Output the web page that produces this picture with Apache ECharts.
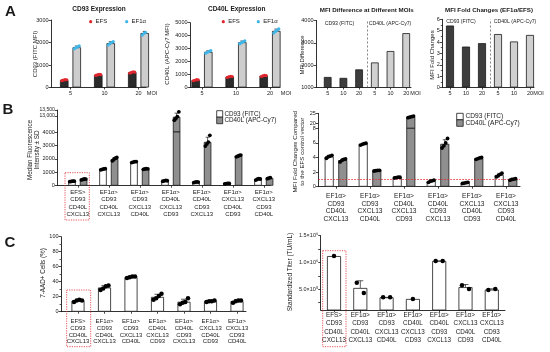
<!DOCTYPE html>
<html>
<head>
<meta charset="utf-8">
<script src="https://cdn.jsdelivr.net/npm/echarts@6.0.0/dist/echarts.min.js"></script>
<style>
html,body{margin:0;padding:0;background:#fff;}
#chart{width:550px;height:352px;}
</style>
</head>
<body>
<div id="chart"></div>
<script>
// ================= DATA =================
const moiLabels = ['5', '10', '20'];
const moiLabels6 = ['5', '10', '20', '5', '10', '20'];
// Panel A – CD93 expression (FITC MFI), replicates per MOI
const cd93EFS  = [[305, 330, 350, 345], [535, 560, 585, 570], [640, 665, 700, 680]];
const cd93EF1a = [[1720, 1770, 1810, 1850], [1890, 1950, 2000, 2040], [2330, 2400, 2450, 2500]];
// Panel A – CD40L expression (APC-Cy7 MFI)
const cd40lEFS  = [[520, 560, 600, 590], [780, 820, 860, 850], [850, 890, 930, 920]];
const cd40lEF1a = [[2650, 2720, 2780, 2850], [3380, 3460, 3530, 3600], [4200, 4330, 4430, 4520]];
// Panel A – MFI difference
const diffCD93  = [1470, 1430, 1810];
const diffCD40L = [2120, 2630, 3430];
// Panel A – fold change EF1α/EFS
const foldCD93  = [5.45, 3.6, 3.9];
const foldCD40L = [4.7, 4.05, 4.62];

// Panels B/C – constructs (label lines)
const constructs = [
  ['EFS>', 'CD93', 'CD40L', 'CXCL13'],
  ['EF1α>', 'CD93', 'CD40L', 'CXCL13'],
  ['EF1α>', 'CD93', 'CXCL13', 'CD40L'],
  ['EF1α>', 'CD40L', 'CXCL13', 'CD93'],
  ['EF1α>', 'CD40L', 'CD93', 'CXCL13'],
  ['EF1α>', 'CXCL13', 'CD40L', 'CD93'],
  ['EF1α>', 'CXCL13', 'CD93', 'CD40L']
];
// Panel B left – median fluorescence intensity replicates
const mfiCD93 = [[300, 320, 345, 335], [1180, 1220, 1250, 1265], [1720, 1760, 1790, 1800],
                 [330, 360, 390, 370], [230, 260, 290, 270], [140, 160, 180, 170], [420, 480, 520, 500]];
const mfiCD40L = [[430, 470, 500, 490], [1850, 1950, 2050, 2100], [1220, 1250, 1270, 1260],
                  [12650, 12800, 12950, 13350], [2950, 3100, 3250, 3750], [2150, 2200, 2250, 2280], [520, 570, 600, 620]];
// Panel B right – fold change vs EFS control (constructs 2..7)
const fcCD93  = [[3.9, 4.1, 4.2, 4.3], [5.7, 5.8, 5.9, 5.95], [1.2, 1.25, 1.3, 1.3],
                 [0.6, 0.75, 0.8, 0.9], [0.45, 0.5, 0.55, 0.6], [1.35, 1.5, 1.7, 1.85]];
const fcCD40L = [[3.4, 3.6, 3.75, 3.8], [2.15, 2.2, 2.25, 2.25], [22.8, 23.1, 23.3, 23.6],
                 [5.3, 5.6, 6.0, 6.6], [3.75, 3.85, 3.95, 4.0], [0.9, 1.0, 1.05, 1.1]];
// Panel C left – 7-AAD+ cells (%)
const aadCells = [[13, 15, 16, 15], [29, 31, 34, 35], [45, 46, 47, 47], [16, 18, 21, 24],
                  [10, 12, 13, 18], [13, 14, 14, 15], [12, 14, 15, 15]];
// Panel C right – standardized titer (TU/mL)
const titer = [[1120000], [620000, 430000], [350000, 350000], [320000],
               [1030000, 1030000], [575000, 505000], [485000, 505000]];
const titerTicks = [500000, 1000000, 1500000];
const titerTickLabels = ['5.0×10⁵', '1.0×10⁶', '1.5×10⁶'];
const titerTickMarks = [250000, 500000, 750000, 1000000, 1250000, 1500000];
const brokeTicksLeft = [13000, 13500];
const brokeTicksRight = [20, 25];

// ================= LAYOUT / STYLE =================
const FONT = '"Liberation Sans", Arial, Helvetica, sans-serif';
const INK = '#1a1a1a';
const RED = '#e0262d', BLUE = '#3fb6e8';
const num = v => String(v);
const titerFmt = v => {
  const k = titerTicks.findIndex(t => Math.abs(t - v) < 1);
  return k >= 0 ? titerTickLabels[k] : '';
};
const P = {
  a1:  {x0: 51, x1: 146, c0: 70.5, sp: 34, top: 20, bottom: 87.5, ymin: 0, ymax: 3000, step: 1000, yfmt: num, xm: 3},
  a2:  {x0: 190, x1: 280, c0: 202, sp: 34, top: 22.7, bottom: 87.5, ymin: 0, ymax: 5000, step: 1000, yfmt: num, xm: 3},
  a3:  {x0: 316, x1: 411, c0: 327.7, sp: 15.7, top: 20.4, bottom: 87.5, ymin: 1000, ymax: 4000, step: 1000, yfmt: num, xm: 3},
  a4:  {x0: 442.3, x1: 534, c0: 450, sp: 16, top: 19.3, bottom: 87.5, ymin: 0, ymax: 6, step: 1, minor: 2, xm: 3},
  blU: {x0: 57.3, x1: 270.3, c0: 77.8, sp: 31, top: 110, bottom: 132, ymin: 11667, ymax: 13500,
        yticks: brokeTicksLeft, yfmt: v => v.toLocaleString('en-US'), yfs: 5},
  bl:  {x0: 57.3, x1: 270.3, c0: 77.8, sp: 31, top: 132, bottom: 185.7, ymin: 0, ymax: 4000, step: 1000, yfmt: num,
        xfs: 6, xlh: 7.2, xm: 3.2},
  brU: {x0: 318.3, x1: 520, c0: 336, sp: 34, top: 113.3, bottom: 128.3, ymin: 17.5, ymax: 25, yticks: brokeTicksRight},
  br:  {x0: 318.3, x1: 520, c0: 336, sp: 34, top: 128.3, bottom: 186.7, ymin: 0, ymax: 8, step: 2,
        xfs: 6.6, xlh: 7.5, xm: 6},
  cl:  {x0: 61, x1: 246, c0: 78, sp: 26.5, top: 236.7, bottom: 311.7, ymin: 0, ymax: 100, step: 20, minor: 2,
        xfs: 6, xlh: 6.7, xm: 6.5},
  cr:  {x0: 320.7, x1: 505, c0: 334, sp: 26.3, top: 235.7, bottom: 310, ymin: 114000, ymax: 1500000,
        yticks: titerTicks, ytickMarks: titerTickMarks, yfmt: titerFmt, xfs: 6.3, xlh: 8.4, xm: 1}
};

const grid = [], xAxis = [], yAxis = [], series = [];
const mean = a => a.reduce((s, v) => s + v, 0) / a.length;
const sd = a => { if (a.length < 2) return 0; const m = mean(a); return Math.sqrt(a.reduce((s, v) => s + (v - m) * (v - m), 0) / (a.length - 1)); };

function addGrid(p, xl) {
  const gi = grid.length;
  grid.push({left: p.x0, top: p.top, width: p.x1 - p.x0, height: p.bottom - p.top, containLabel: false, outerBoundsMode: 'none'});
  const idx = xl ? xl.map((_, i) => i) : [0];
  xAxis.push({
    type: 'value', gridIndex: gi, min: (p.x0 - p.c0) / p.sp, max: (p.x1 - p.c0) / p.sp, show: !!xl,
    splitLine: {show: false},
    axisLine: {show: true, onZero: false, lineStyle: {color: INK, width: 0.9}},
    axisTick: {show: true, customValues: idx, length: 2, lineStyle: {color: INK, width: 0.8}},
    axisLabel: {show: true, customValues: idx, formatter: v => xl ? (xl[Math.round(v)] || '') : '', hideOverlap: false,
      fontFamily: FONT, fontSize: p.xfs || 5.5, lineHeight: p.xlh || 6.5, margin: p.xm || 3, color: INK}
  });
  const ya = {
    type: 'value', gridIndex: gi, min: p.ymin, max: p.ymax, position: 'left',
    splitLine: {show: false},
    axisLine: {show: true, onZero: false, lineStyle: {color: INK, width: 0.9}},
    axisTick: {show: true, length: 2.5, lineStyle: {color: INK, width: 0.8}},
    axisLabel: {fontFamily: FONT, fontSize: p.yfs || 5.5, margin: 2.5, color: INK, hideOverlap: false,
      showMinLabel: true, showMaxLabel: true}
  };
  if (p.step) ya.interval = p.step;
  if (p.yticks) { ya.axisLabel.customValues = p.yticks; ya.axisTick.customValues = p.ytickMarks || p.yticks; }
  if (p.yfmt) ya.axisLabel.formatter = p.yfmt;
  if (p.minor) ya.minorTick = {show: true, splitNumber: p.minor, length: 1.5, lineStyle: {color: INK, width: 0.7}};
  yAxis.push(ya);
  return gi;
}

function addBars(gi, p, sets, o) {
  const bars = [], errs = [];
  sets.forEach(s => {
    const dots = [];
    s.values.forEach((v, i) => {
      const reps = Array.isArray(v) ? v : [v];
      const m = mean(reps);
      const x = i + (s.off || 0) / p.sp;
      bars.push({value: [x, m], itemStyle: {color: s.fill, borderColor: INK, borderWidth: 0.8}});
      if (reps.length > 1) errs.push([x, m, m + sd(reps)]);
      if (s.dot) {
        reps.forEach((r, k) => {
          const j = reps.length > 1 ? (k / (reps.length - 1) - 0.5) * o.spread : 0;
          dots.push([x + j / p.sp, r]);
        });
      }
    });
    if (dots.length) series.push({type: 'scatter', xAxisIndex: gi, yAxisIndex: gi, symbolSize: o.dotSize,
      data: dots, itemStyle: {color: s.dot, opacity: 1}, z: 5, clip: true, silent: true, animation: false});
  });
  const bs = {type: 'bar', xAxisIndex: gi, yAxisIndex: gi, barWidth: o.bw, data: bars, clip: true, z: 2,
    silent: true, animation: false};
  if (o.markLine) bs.markLine = o.markLine;
  series.push(bs);
  if (errs.length) series.push({type: 'custom', xAxisIndex: gi, yAxisIndex: gi, z: 3, clip: true, silent: true,
    animation: false, data: errs, encode: {x: 0, y: [1, 2]},
    renderItem: (params, api) => {
      const a = api.coord([api.value(0), api.value(1)]);
      const b = api.coord([api.value(0), api.value(2)]);
      const st = {stroke: INK, lineWidth: 0.7};
      return {type: 'group', children: [
        {type: 'line', shape: {x1: a[0], y1: a[1], x2: b[0], y2: b[1]}, style: st},
        {type: 'line', shape: {x1: b[0] - o.cap, y1: b[1], x2: b[0] + o.cap, y2: b[1]}, style: st}
      ]};
    }});
}

const dividerLine = {silent: true, symbol: ['none', 'none'], label: {show: false},
  lineStyle: {color: '#555', type: [2, 2], width: 0.7}, data: [{xAxis: 2.5}]};

// A1
let g = addGrid(P.a1, moiLabels);
addBars(g, P.a1, [
  {values: cd93EFS, off: -6.25, fill: '#2b2b2b', dot: RED},
  {values: cd93EF1a, off: 6.25, fill: '#cdcdcd', dot: BLUE}], {bw: 8.5, dotSize: 3.2, spread: 5, cap: 2});
// A2
g = addGrid(P.a2, moiLabels);
addBars(g, P.a2, [
  {values: cd40lEFS, off: -6.3, fill: '#2b2b2b', dot: RED},
  {values: cd40lEF1a, off: 6.3, fill: '#cdcdcd', dot: BLUE}], {bw: 8.5, dotSize: 3.2, spread: 5, cap: 2});
// A3
g = addGrid(P.a3, moiLabels6);
addBars(g, P.a3, [
  {values: diffCD93, fill: '#3d3d3d'},
  {values: diffCD40L, off: 3 * P.a3.sp, fill: '#d0d0d0'}],
  {bw: 7.7, cap: 2, markLine: dividerLine});
// A4
g = addGrid(P.a4, moiLabels6);
addBars(g, P.a4, [
  {values: foldCD93, fill: '#3d3d3d'},
  {values: foldCD40L, off: 3 * P.a4.sp, fill: '#d0d0d0'}],
  {bw: 8, cap: 2, markLine: dividerLine});
// B left (upper broken segment + lower)
const bLabels = constructs.map(c => c.join('\n'));
g = addGrid(P.blU, null);
addBars(g, P.blU, [
  {values: mfiCD93, off: -5.8, fill: '#ffffff', dot: '#000'},
  {values: mfiCD40L, off: 5.8, fill: '#8f8f8f', dot: '#000'}], {bw: 7.5, dotSize: 3.8, spread: 4.5, cap: 2});
g = addGrid(P.bl, bLabels);
addBars(g, P.bl, [
  {values: mfiCD93, off: -5.8, fill: '#ffffff', dot: '#000'},
  {values: mfiCD40L, off: 5.8, fill: '#8f8f8f', dot: '#000'}], {bw: 7.5, dotSize: 3.8, spread: 4.5, cap: 2});
// B right
const fcLabels = bLabels.slice(1);
g = addGrid(P.brU, null);
addBars(g, P.brU, [
  {values: fcCD93, off: -6.8, fill: '#ffffff', dot: '#000'},
  {values: fcCD40L, off: 6.8, fill: '#8f8f8f', dot: '#000'}], {bw: 9, dotSize: 3.8, spread: 5.5, cap: 2});
g = addGrid(P.br, fcLabels);
addBars(g, P.br, [
  {values: fcCD93, off: -6.8, fill: '#ffffff', dot: '#000'},
  {values: fcCD40L, off: 6.8, fill: '#8f8f8f', dot: '#000'}], {bw: 9, dotSize: 3.8, spread: 5.5, cap: 2,
  markLine: {silent: true, symbol: ['none', 'none'], label: {show: false},
    lineStyle: {color: RED, type: [1.5, 1.5], width: 0.9}, data: [{yAxis: 1}]}});
// C left
g = addGrid(P.cl, bLabels);
addBars(g, P.cl, [{values: aadCells, fill: '#ffffff', dot: '#000'}], {bw: 13, dotSize: 4.5, spread: 8, cap: 3});
// C right
g = addGrid(P.cr, bLabels);
addBars(g, P.cr, [{values: titer, fill: '#ffffff', dot: '#000'}], {bw: 14, dotSize: 4.5, spread: 7, cap: 3});

// ================= TEXT / ANNOTATIONS =================
function T(text, x, y, o = {}) {
  return {type: 'text', x, y, rotation: o.rot ? Math.PI / 2 : 0, silent: true, z: 100,
    style: {text, fill: o.color || INK, fontFamily: FONT, fontSize: o.size || 5.5, fontWeight: o.bold ? 'bold' : 'normal',
      align: o.align || 'center', verticalAlign: 'middle', lineHeight: o.lh || (o.size || 5.5) * 1.15}};
}
const dot = (cx, cy, fill) => ({type: 'circle', shape: {cx, cy, r: 1.6}, style: {fill}, silent: true, z: 100});
const box = (x, y, w, h, fill) => ({type: 'rect', shape: {x, y, width: w, height: h}, style: {fill, stroke: INK, lineWidth: 0.8}, silent: true, z: 100});
const redBox = (x, y, w, h) => ({type: 'rect', shape: {x, y, width: w, height: h},
  style: {fill: 'none', stroke: RED, lineWidth: 0.8, lineDash: [1.2, 1.2]}, silent: true, z: 100});

const graphic = [
  T('A', 10.5, 11.5, {size: 15, bold: true}),
  T('B', 8, 109.5, {size: 15, bold: true}),
  T('C', 10, 242.5, {size: 15, bold: true}),
  T('CD93 Expression', 99, 9.5, {size: 6.5, bold: true}),
  T('CD40L Expression', 236.7, 9.5, {size: 6.5, bold: true}),
  T('MFI Difference at Different MOIs', 366.7, 10, {size: 6.2, bold: true}),
  T('MFI Fold Changes (EF1α/EFS)', 489, 10, {size: 6.2, bold: true}),
  dot(90.7, 21.7, RED), T('EFS', 95.5, 21.7, {align: 'left', size: 6}),
  dot(126.7, 21.7, BLUE), T('EF1α', 131.5, 21.7, {align: 'left', size: 6}),
  dot(223.3, 21.7, RED), T('EFS', 228.2, 21.7, {align: 'left', size: 6}),
  dot(258.3, 21.7, BLUE), T('EF1α', 263.2, 21.7, {align: 'left', size: 6}),
  T('MOI', 152, 93.3, {size: 5.5}), T('MOI', 286, 93.3, {size: 5.5}),
  T('MOI', 415.5, 93.3, {size: 5.5}), T('MOI', 538.5, 93.3, {size: 5.5}),
  T('CD93 (FITC)', 339.5, 23.3, {size: 5.2}), T('CD40L (APC-Cy7)', 390, 23.3, {size: 5.2}),
  T('CD93 (FITC)', 461, 21.7, {size: 5.2}), T('CD40L (APC-Cy7)', 515, 21.7, {size: 5.2}),
  T('CD93 (FITC MFI)', 35, 54, {rot: true, size: 6}),
  T('CD40L (APC-Cy7 MFI)', 167, 54, {rot: true, size: 6}),
  T('MFI Difference', 302, 55, {rot: true, size: 6}),
  T('MFI Fold Changes', 432, 55, {rot: true, size: 6}),
  T('Median Fluorescence\nIntensity ± SD', 33.5, 150, {rot: true, size: 6.3, lh: 7}),
  T('MFI Fold Changes Compared\nto the EFS control vector', 298.7, 151.7, {rot: true, size: 6.2, lh: 6.5}),
  T('7-AAD+ Cells (%)', 43.3, 273, {rot: true, size: 6.3}),
  T('Standardized Titer (TU/mL)', 290, 272, {rot: true, size: 6.5}),
  box(216.7, 110.7, 6, 6.5, '#ffffff'), box(216.7, 117.2, 6, 6.5, '#8f8f8f'),
  T('CD93 (FITC)', 224.5, 114, {align: 'left', size: 6.3}),
  T('CD40L (APC-Cy7)', 224.5, 120.5, {align: 'left', size: 6.3}),
  box(456.7, 113.3, 6.5, 6.5, '#ffffff'), box(456.7, 119.8, 6.5, 6.5, '#8f8f8f'),
  T('CD93 (FITC)', 465.5, 116.5, {align: 'left', size: 6.6}),
  T('CD40L (APC-Cy7)', 465.5, 123, {align: 'left', size: 6.6}),
  redBox(65, 172.7, 24.3, 47.3),
  redBox(66.7, 290, 24, 56.7),
  redBox(322.7, 250.7, 23.3, 96)
];

const chart = echarts.init(document.getElementById('chart'), null, {renderer: 'canvas'});
chart.setOption({
  animation: false,
  backgroundColor: '#ffffff',
  textStyle: {fontFamily: FONT},
  grid, xAxis, yAxis, series, graphic
});
</script>
</body>
</html>
